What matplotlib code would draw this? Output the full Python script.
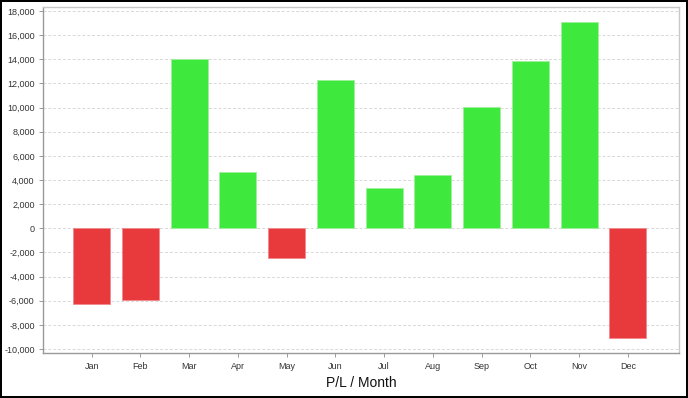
import matplotlib
matplotlib.use("Agg")
import matplotlib.pyplot as plt
from matplotlib.ticker import FuncFormatter, MultipleLocator

plt.rcParams["font.family"] = ["Liberation Sans", "DejaVu Sans"]

months = ["Jan", "Feb", "Mar", "Apr", "May", "Jun", "Jul", "Aug", "Sep", "Oct", "Nov", "Dec"]
pl_values = [-6300, -5900, 14000, 4650, -2500, 12250, 3300, 4400, 10030, 13850, 17080, -9050]

pos_color = "#3ee83c"
neg_color = "#e8393d"
pos_edge = "#a0f09e"
neg_edge = "#f08a8d"

fig = plt.figure(figsize=(6.88, 3.98), dpi=100, edgecolor="black", linewidth=1.6)
ax = fig.add_axes([43/688, 1-353/398, (679-43)/688, (353-7)/398])

x = list(range(len(months)))
colors = [pos_color if v >= 0 else neg_color for v in pl_values]
edges = [pos_edge if v >= 0 else neg_edge for v in pl_values]
ax.bar(x, pl_values, width=0.76, color=colors, edgecolor=edges, linewidth=0.6, zorder=3)

ax.set_xlim(-1.0, 12.05)
ax.set_ylim(-10330, 18330)
ax.yaxis.set_major_locator(MultipleLocator(2000))
ax.yaxis.set_major_formatter(FuncFormatter(lambda v, p: f"{int(v):,}"))
ax.set_xticks(x)
ax.set_xticklabels(months)

ax.grid(axis="y", color="#d8d8d8", linestyle=(0, (3, 2)), linewidth=0.7, zorder=0)
ax.set_axisbelow(True)

for s in ["top", "right"]:
    ax.spines[s].set_color("#c8c8c8")
for s in ["left", "bottom"]:
    ax.spines[s].set_color("#999999")
for s in ax.spines.values():
    s.set_linewidth(1.0)

ax.tick_params(axis="both", labelsize=6.5, colors="#333333", length=3, width=0.7, pad=3)
ax.tick_params(axis="both", color="#999999")
ax.tick_params(axis="x", pad=3.5)

fig.text(361/688, 1-383/398, "P/L / Month", ha="center", va="center", fontsize=10, color="#111111")

fig.savefig("out.png", dpi=100, edgecolor=fig.get_edgecolor())
